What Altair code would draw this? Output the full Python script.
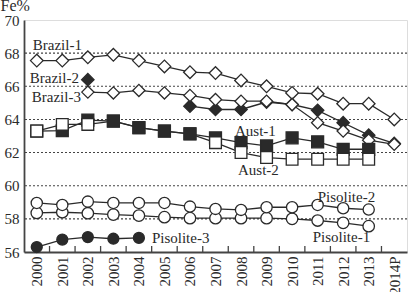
import altair as alt
import pandas as pd

years = ["2000", "2001", "2002", "2003", "2004", "2005", "2006", "2007",
         "2008", "2009", "2010", "2011", "2012", "2013", "2014P"]

brazil1 = [67.55, 67.55, 67.75, 67.9, 67.55, 67.2, 66.85, 66.8, 66.35, 66.0, 65.6, 65.55, 64.95, 64.95, 64.0]
brazil2 = [None, None, 66.4, None, None, None, 64.8, 64.6, 64.6, 65.05, 64.9, 64.55, 63.8, 63.05, 62.55]
brazil3 = [None, None, 65.65, 65.6, 65.75, 65.6, 65.45, 65.2, 65.1, 65.1, 64.9, 63.8, 63.3, 62.75, 62.5]
aust1 = [63.3, 63.33, 63.96, 63.9, 63.5, 63.3, 63.13, 62.89, 62.6, 62.4, 62.89, 62.65, 62.2, 62.2, None]
aust2 = [63.3, 63.7, 63.7, 63.9, 63.5, 63.3, 63.13, 62.6, 62.0, 61.7, 61.6, 61.6, 61.6, 61.6, None]
pisolite1 = [58.36, 58.4, 58.34, 58.26, 58.2, 58.1, 58.04, 58.04, 58.04, 58.04, 58.0, 57.9, 57.76, 57.56, None]
pisolite2 = [58.96, 58.84, 59.04, 58.96, 58.96, 58.96, 58.74, 58.6, 58.54, 58.7, 58.7, 58.84, 58.64, 58.56, None]
pisolite3 = [56.3, 56.75, 56.9, 56.8, 56.85, None, None, None, None, None, None, None, None, None, None]

series_names = ["Brazil-1", "Brazil-2", "Brazil-3", "Aust-1", "Aust-2",
                "Pisolite-1", "Pisolite-2", "Pisolite-3"]
series_values = [brazil1, brazil2, brazil3, aust1, aust2, pisolite1, pisolite2, pisolite3]

grid_values = [58, 60, 62, 64, 66, 68]
y_ticks = [56, 58, 60, 62, 64, 66, 68, 70]

# label text, anchor year, anchor value, pixel shift
labels = [
    ("Brazil-1", "2000", 68.52, -4),
    ("Brazil-2", "2000", 66.5, -7),
    ("Brazil-3", "2000", 65.34, -5),
    ("Aust-1", "2008", 63.32, -6),
    ("Aust-2", "2008", 60.95, -3),
    ("Pisolite-2", "2011", 59.3, 0),
    ("Pisolite-1", "2011", 56.9, -5),
    ("Pisolite-3", "2004", 56.85, 13),
]

rows = []
for si, (name, vals) in enumerate(zip(series_names, series_values)):
    seg = 0
    prev_none = True
    for yi, (yr, v) in enumerate(zip(years, vals)):
        if v is None:
            prev_none = True
            continue
        if prev_none:
            seg += 1
        prev_none = False
        z = si
        if name == "Aust-2":
            z = 2.5 if 3 <= yi <= 6 else 4
        if name == "Aust-1":
            z = 3
        rows.append({"series": name, "seg": f"{name}-{seg}", "year": yr, "value": v, "z": z})
df = pd.DataFrame(rows)

FONT = "Liberation Serif"
INK = "#2a2a2a"
W, H = 383, 232
STEP = W / len(years)

x_scale = alt.Scale(type="point", domain=years, padding=0.5)
x_axis = alt.Axis(title=None, labelAngle=270, ticks=False, labelPadding=4,
                  labelOverlap=False,
                  labelFont=FONT, labelFontSize=15, labelColor=INK,
                  domainColor="#444", domainWidth=1.8, grid=False)
y_scale = alt.Scale(domain=[56, 70], nice=False, zero=False)
y_axis = alt.Axis(values=y_ticks, grid=False, ticks=False, labelPadding=5,
                  labelOverlap=False, labelFlush=False,
                  labelFont=FONT, labelFontSize=15, labelColor=INK,
                  domainColor="#444", domainWidth=1.8,
                  title="Fe%", titleAngle=0, titleX=-24, titleY=-10,
                  titleAlign="left", titleBaseline="alphabetic",
                  titleFont=FONT, titleFontSize=16, titleFontWeight="normal",
                  titleColor=INK)

def X(field):
    return alt.X(field, sort=years, scale=x_scale, axis=x_axis)

def Y(field):
    return alt.Y(field, scale=y_scale, axis=y_axis)

grid = alt.Chart(pd.DataFrame({"value": grid_values})).mark_rule(
    color="#444", strokeWidth=1.1, strokeDash=[2, 2]
).encode(y=Y("value:Q"))

ticks = alt.Chart(pd.DataFrame({"year": years[1:]})).mark_rule(
    color="#444", strokeWidth=1.3, xOffset=-STEP / 2
).encode(x=X("year:N"), y=alt.value(H), y2=alt.value(H - 6))

lines = alt.Chart(df).mark_line(color=INK, strokeWidth=1.3).encode(
    x=X("year:N"), y=Y("value:Q"), detail="seg:N"
)

points = alt.Chart(df).mark_point(filled=True, stroke=INK, strokeWidth=1.3, opacity=1).encode(
    x=X("year:N"),
    y=Y("value:Q"),
    shape=alt.Shape("series:N", legend=None,
                    scale=alt.Scale(domain=series_names,
                                    range=["diamond", "diamond", "diamond", "square", "square",
                                           "circle", "circle", "circle"])),
    fill=alt.Fill("series:N", legend=None,
                  scale=alt.Scale(domain=series_names,
                                  range=["white", INK, "white", INK, "white",
                                         "white", "white", INK])),
    size=alt.Size("series:N", legend=None,
                  scale=alt.Scale(domain=series_names,
                                  range=[160, 120, 50, 70, 70, 45, 115, 95])),
    order=alt.Order("z:Q"),
)

text_layers = []
for txt, yr, val, dx in labels:
    text_layers.append(
        alt.Chart(pd.DataFrame({"t": [txt], "year": [yr], "value": [val]})).mark_text(
            font=FONT, fontSize=15, color=INK, align="left", baseline="middle", dx=dx
        ).encode(x=X("year:N"), y=Y("value:Q"), text="t:N")
    )

chart = alt.layer(grid, ticks, lines, points, *text_layers).properties(
    width=W, height=H,
    padding={"left": 24, "top": 20, "right": 4, "bottom": 40},
    autosize=alt.AutoSizeParams(type="none"),
).configure_view(stroke="#888", strokeWidth=1.2).configure(background="white")

chart.save("out.html", embed_options={"renderer": "svg", "actions": False})
